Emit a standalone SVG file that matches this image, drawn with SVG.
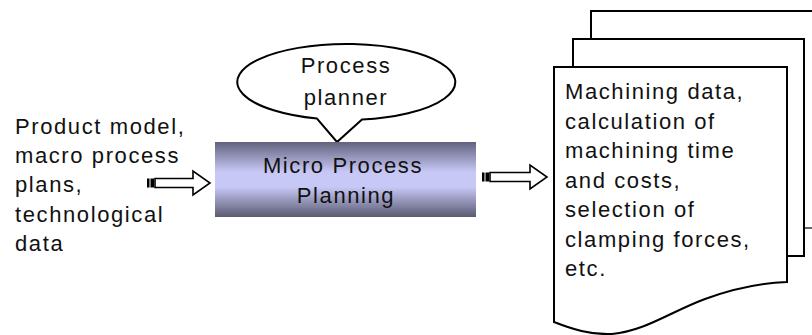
<svg xmlns="http://www.w3.org/2000/svg" width="812" height="335" viewBox="0 0 812 335">
  <defs>
    <linearGradient id="boxFill" x1="0" y1="0" x2="0" y2="1">
      <stop offset="0" stop-color="#62627e"/>
      <stop offset="0.4" stop-color="#c8c8f6"/>
      <stop offset="0.6" stop-color="#c8c8f6"/>
      <stop offset="1" stop-color="#5a5a72"/>
    </linearGradient>
  </defs>
  <style>
    text { font-family: "Liberation Sans", Arial, sans-serif; font-size: 22px; letter-spacing: 1.6px; fill: #111; }
    .mid { text-anchor: middle; }
    .line { fill: #fff; stroke: #000; stroke-width: 2; stroke-linejoin: miter; }
    .arrow { fill: #fff; stroke: #000; stroke-width: 1.6; }
    .stripe { fill: #000; }
  </style>

  <rect width="812" height="335" fill="#fff"/>

  <!-- inputs -->
  <g id="inputs">
    <text x="15" y="133.5">Product model,</text>
    <text x="15" y="163">macro process</text>
    <text x="15" y="192">plans,</text>
    <text x="15" y="221.5">technological</text>
    <text x="15" y="250.5">data</text>
  </g>

  <!-- planner callout -->
  <g id="planner">
    <path class="line" d="M317,118.6 L337,142 L362,119.6 A109,38 0 1 0 317,118.6 Z"/>
    <text class="mid" x="346" y="73">Process</text>
    <text class="mid" x="346" y="105">planner</text>
  </g>

  <!-- central process -->
  <g id="micro-process-planning">
    <rect x="215" y="142" width="261" height="75" fill="url(#boxFill)"/>
    <text class="mid" x="343" y="172.5">Micro Process</text>
    <text class="mid" x="346" y="202.5">Planning</text>
  </g>

  <!-- output documents -->
  <g id="outputs">
    <path class="line" d="M591,228 V11 H814"/>
    <path d="M804,228 H812" stroke="#000" stroke-width="1.2" fill="none"/>
    <rect class="line" x="573" y="39" width="231" height="217"/>
    <path class="line" d="M554,322 V67 H787 V282 C760,283 735,288 705,299 C670,312 645,331 612,334 C590,335 572,329 554,322 Z"/>
    <text x="565" y="99">Machining data,</text>
    <text x="565" y="128.5">calculation of</text>
    <text x="565" y="158">machining time</text>
    <text x="565" y="187.5">and costs,</text>
    <text x="565" y="217">selection of</text>
    <text x="565" y="246.5">clamping forces,</text>
    <text x="565" y="276">etc.</text>
  </g>

  <!-- connectors -->
  <g id="connectors">
    <g id="arrow-in">
      <rect class="stripe" x="147" y="178.5" width="2.5" height="9"/>
      <rect class="stripe" x="150.5" y="178.5" width="3.5" height="9"/>
      <path class="arrow" d="M155,178.5 H193 V171 L210,183 L193,195 V187.5 H155 Z"/>
    </g>
    <g id="arrow-out">
      <rect class="stripe" x="482" y="172.5" width="2.5" height="9"/>
      <rect class="stripe" x="485.5" y="172.5" width="3.5" height="9"/>
      <path class="arrow" d="M490,172.5 H530 V165 L547,177 L530,189 V181.5 H490 Z"/>
    </g>
  </g>
</svg>
